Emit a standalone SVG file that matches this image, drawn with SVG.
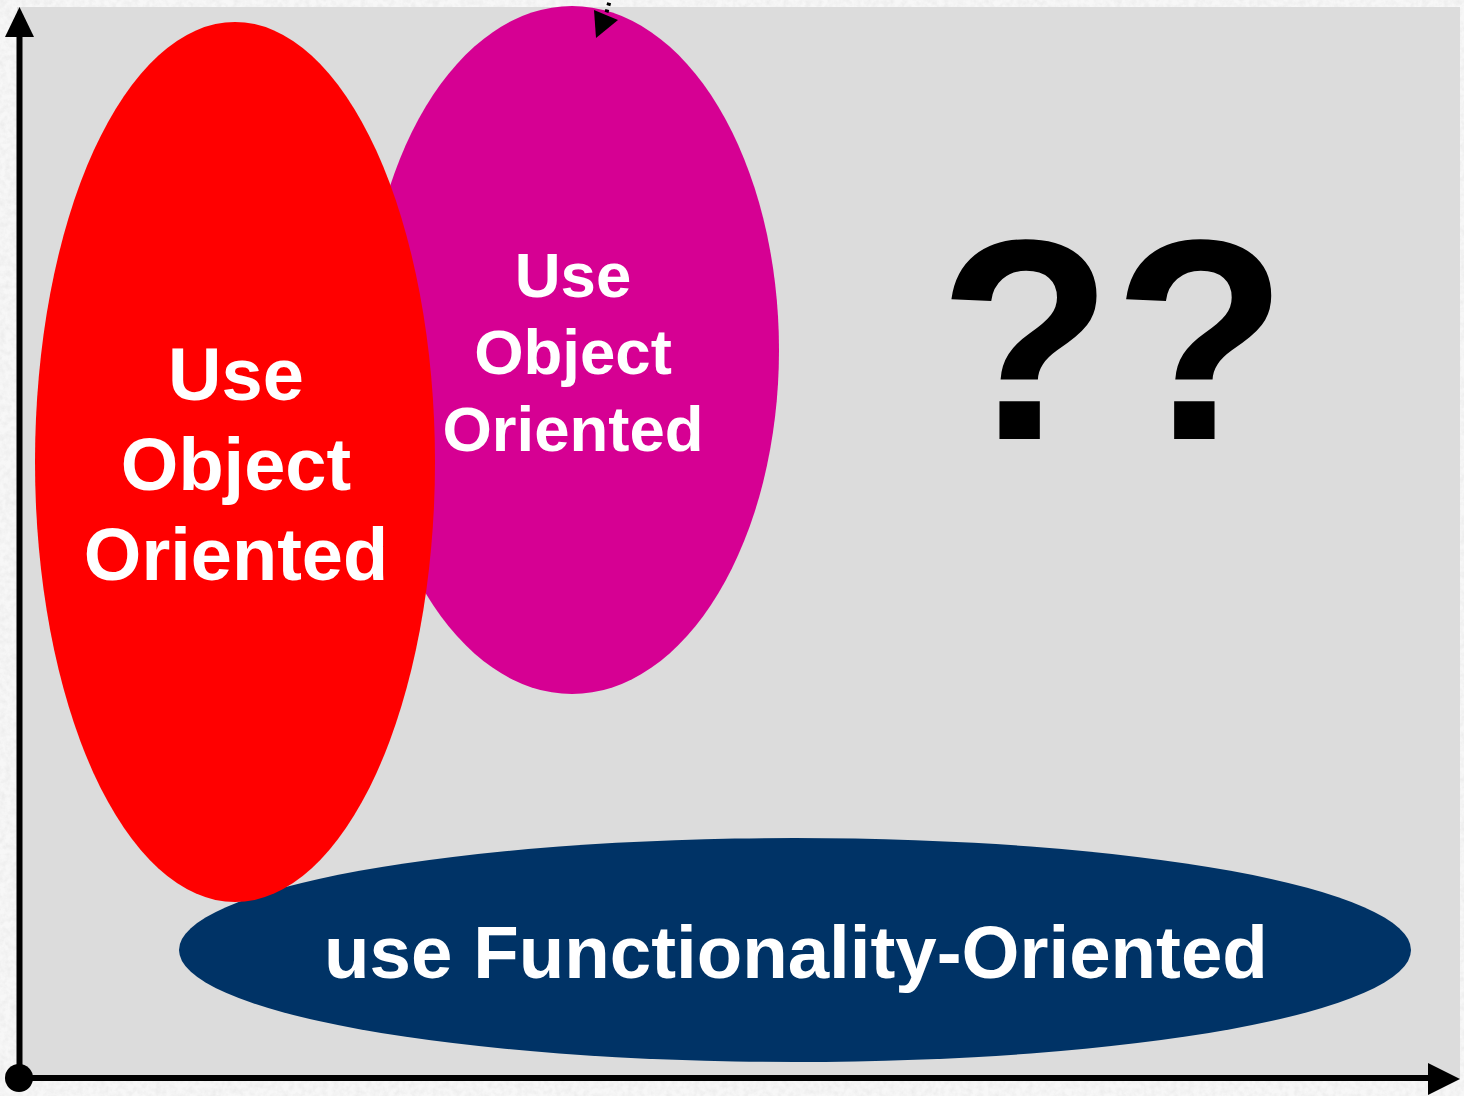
<svg xmlns="http://www.w3.org/2000/svg" width="1464" height="1096" viewBox="0 0 1464 1096">
  <defs>
    <filter id="paper" x="0" y="0" width="100%" height="100%">
      <feTurbulence type="fractalNoise" baseFrequency="0.18" numOctaves="3" seed="4" result="n"/>
      <feColorMatrix in="n" type="matrix" values="0 0 0 0 0.84  0 0 0 0 0.84  0 0 0 0 0.84  0 0 0 -1.8 1.2" result="c"/>
      <feComposite in="c" in2="SourceGraphic" operator="in"/>
    </filter>
  </defs>
  <style>
    .axis { stroke: #000; stroke-width: 6; fill: none; }
    .head { fill: #000; }
    .lbl { font-family: "Liberation Sans", Arial, sans-serif; font-weight: bold; fill: #fff; text-anchor: middle; }
    .big { font-size: 74px; }
    .mid { font-size: 63.5px; }
    .q { font-family: "Liberation Sans", Arial, sans-serif; font-weight: bold; fill: #000; text-anchor: middle; font-size: 286px; }
  </style>

  <!-- textured paper border -->
  <rect x="0" y="0" width="1464" height="1096" fill="#f7f7f7"/>
  <rect x="0" y="0" width="1464" height="1096" fill="#ffffff" filter="url(#paper)"/>

  <!-- chart panel -->
  <rect x="17" y="7" width="1443" height="1072" fill="#dcdcdc"/>

  <!-- upper object-oriented region -->
  <g id="node-oo-upper">
    <ellipse cx="572" cy="350" rx="207" ry="344" fill="#d60093"/>
    <text class="lbl mid" x="573" y="297">Use</text>
    <text class="lbl mid" x="573" y="374">Object</text>
    <text class="lbl mid" x="573" y="451">Oriented</text>
  </g>

  <!-- functionality-oriented region -->
  <g id="node-fo">
    <ellipse cx="795" cy="950" rx="616" ry="112" fill="#003366"/>
    <text class="lbl" font-size="74.5" x="796" y="978">use Functionality-Oriented</text>
  </g>

  <!-- left object-oriented region -->
  <g id="node-oo-left">
    <ellipse cx="235" cy="462" rx="200" ry="440" fill="#ff0000"/>
    <text class="lbl big" x="236" y="400">Use</text>
    <text class="lbl big" x="236" y="490">Object</text>
    <text class="lbl big" x="236" y="580">Oriented</text>
  </g>

  <!-- unknown region -->
  <g id="node-unknown">
    <text class="q" x="1113" y="439">??</text>
  </g>

  <!-- axes and pointer -->
  <g id="connectors">
    <line class="axis" x1="19.5" y1="1078" x2="19.5" y2="34"/>
    <polygon class="head" points="19.5,7 5,37 34,37"/>
    <line class="axis" x1="19" y1="1078" x2="1432" y2="1078"/>
    <polygon class="head" points="1460,1079 1428,1063 1428,1095"/>
    <circle cx="19" cy="1078" r="14" fill="#000"/>
    <line x1="611" y1="-4" x2="605" y2="18" stroke="#000" stroke-width="4" stroke-dasharray="3 4"/>
    <polygon class="head" points="596,38 594,10 618,20"/>
  </g>
</svg>
